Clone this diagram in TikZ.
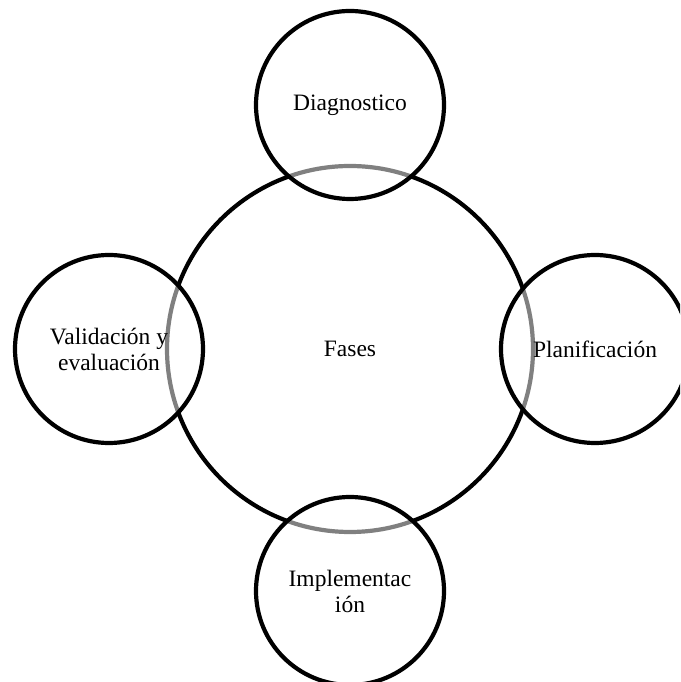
\documentclass[tikz,border=0pt]{standalone}
\usepackage{fontspec}
\setmainfont{Liberation Serif}
\usepackage{tikz}

\begin{document}
\begin{tikzpicture}[x=1pt, y=1pt,
    fase/.style={circle, draw, line width=4.2pt, align=center,
        font=\fontsize{23.5}{26}\selectfont},
    grande/.style={fase, minimum size=366pt},
    etapa/.style={fase, minimum size=188pt, fill=white, fill opacity=0.5,
        draw opacity=1, text opacity=1}]
    \useasboundingbox (0,0) rectangle (680,682);
    \clip (0,0) rectangle (680,682);

    % Centro
    \node[grande] (fases) at (350, 333) {Fases};

    % Etapas
    \node[etapa] (diag) at (350, 577) {Diagnostico};
    \node[etapa] (plan) at (595, 333) {Planificación};
    \node[etapa] (impl) at (350, 91) {Implementac\\ión};
    \node[etapa] (valid) at (109, 333) {Validación y\\evaluación};

\end{tikzpicture}
\end{document}
